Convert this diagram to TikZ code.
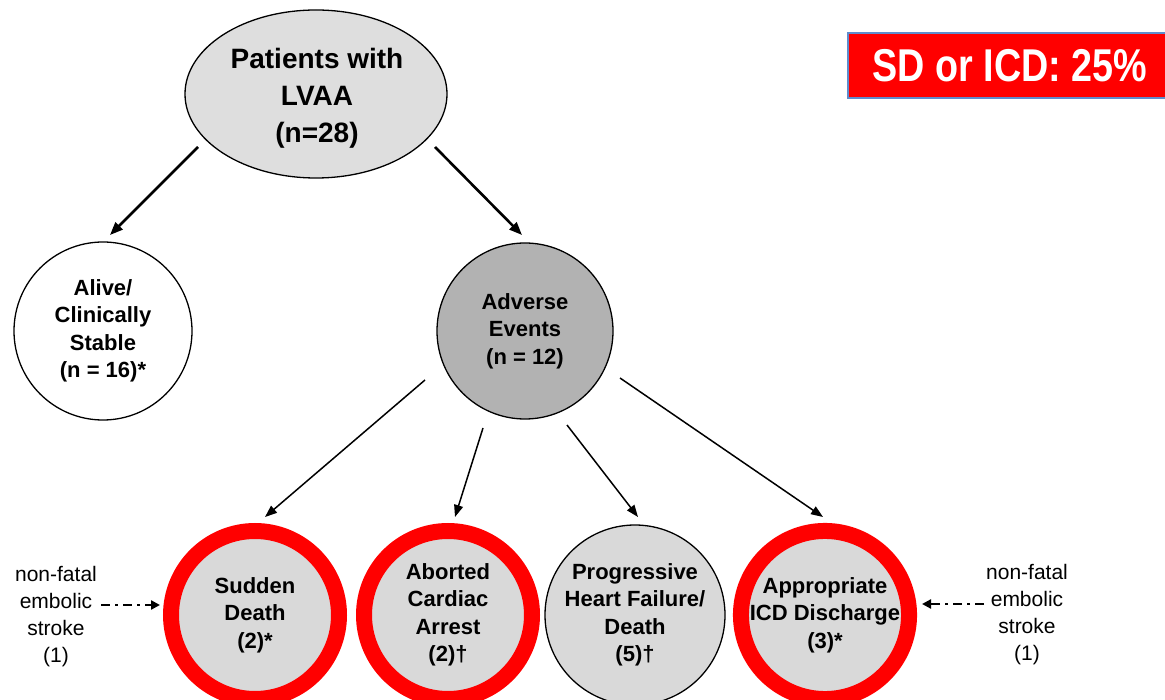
\documentclass[tikz,border=0pt]{standalone}
\usepackage{fontspec}
\setmainfont{Liberation Sans}
\usetikzlibrary{shapes.geometric,arrows.meta,calc}
\definecolor{topgray}{RGB}{222,222,222}
\definecolor{advgray}{RGB}{178,178,178}
\definecolor{botgray}{RGB}{217,217,217}
\definecolor{boxblue}{RGB}{95,140,205}
\tikzset{
  base/.style={align=center,inner sep=0pt,text=black},
  fnt/.style={font=\bfseries\fontsize{22}{27.5}\selectfont},
  ringnode/.style={base,fnt,circle,draw=red,line width=16pt,fill=botgray,minimum size=168pt},
  plaincirc/.style={base,fnt,circle,draw=black,line width=1.3pt,minimum size=178pt},
  bigarr/.style={line width=2.6pt,-{Triangle[length=13pt,width=10pt]}},
  smallarr/.style={line width=1.5pt,-{Triangle[length=12pt,width=9pt]}},
  dasharr/.style={line width=2.8pt,dash pattern=on 9pt off 5pt on 3pt off 5pt,-{Triangle[length=9pt,width=9pt]}},
  sidetext/.style={align=center,inner sep=0pt,font=\fontsize{21}{27}\selectfont}
}
\begin{document}
\begin{tikzpicture}[x=1pt,y=-1pt]
\useasboundingbox[fill=white] (0,0) rectangle (1165,700);

% nodes
\node[base,ellipse,draw=black,line width=1.3pt,fill=topgray,minimum width=262pt,minimum height=168pt] (top) at (316,94) {};
\node[base,font=\bfseries\fontsize{28}{37}\selectfont] (toptext) at (317,98) {Patients with\\LVAA\\(n=28)};

\node[plaincirc,fill=white] (alive) at (103,331) {Alive/\\Clinically\\Stable\\(n = 16)*};
\node[plaincirc,fill=advgray,minimum size=176pt] (adv) at (525,331) {Adverse\\Events\\(n = 12)};

\node[ringnode] (sd) at (255,615) {Sudden\\Death\\(2)*};
\node[ringnode] (aca) at (448,615) {Aborted\\Cardiac\\Arrest\\(2)\textdagger};
\node[plaincirc,fill=botgray,minimum size=180pt] (phf) at (635,615) {Progressive\\Heart Failure/\\Death\\(5)\textdagger};
\node[ringnode] (icd) at (825,615) {Appropriate\\ICD Discharge\\(3)*};

\node[rectangle,draw=boxblue,line width=2pt,fill=red,minimum width=324pt,minimum height=65pt,inner sep=0pt] (box) at (1010,65.5) {};
\node[base,text=white,font=\bfseries\fontsize{46}{50}\selectfont] (boxtext) at (1010,66) {\scalebox{0.82}[1]{SD or ICD: 25\%}};

\node[sidetext] (lside) at (56,617) {non-fatal\\embolic\\stroke\\(1)};
\node[sidetext] (rside) at (1027,615) {non-fatal\\embolic\\stroke\\(1)};

% connector end points
\coordinate (t1s) at (198,147);
\coordinate (t1e) at (110,235);
\coordinate (t2s) at (435,147);
\coordinate (t2e) at (522,235);
\coordinate (a1s) at (425,380);
\coordinate (a1e) at (265,517);
\coordinate (a2s) at (483,428);
\coordinate (a2e) at (455,517);
\coordinate (a3s) at (567,425);
\coordinate (a3e) at (638,517);
\coordinate (a4s) at (620,378);
\coordinate (a4e) at (823,517);
\coordinate (ls) at (101,605);
\coordinate (le) at (160,605);
\coordinate (rs) at (984,604);
\coordinate (re) at (922,604);

\draw[bigarr] (t1s) -- (t1e);
\draw[bigarr] (t2s) -- (t2e);
\draw[smallarr] (a1s) -- (a1e);
\draw[smallarr] (a2s) -- (a2e);
\draw[smallarr] (a3s) -- (a3e);
\draw[smallarr] (a4s) -- (a4e);
\draw[dasharr] (ls) -- (le);
\draw[dasharr] (rs) -- (re);
\end{tikzpicture}
\end{document}
